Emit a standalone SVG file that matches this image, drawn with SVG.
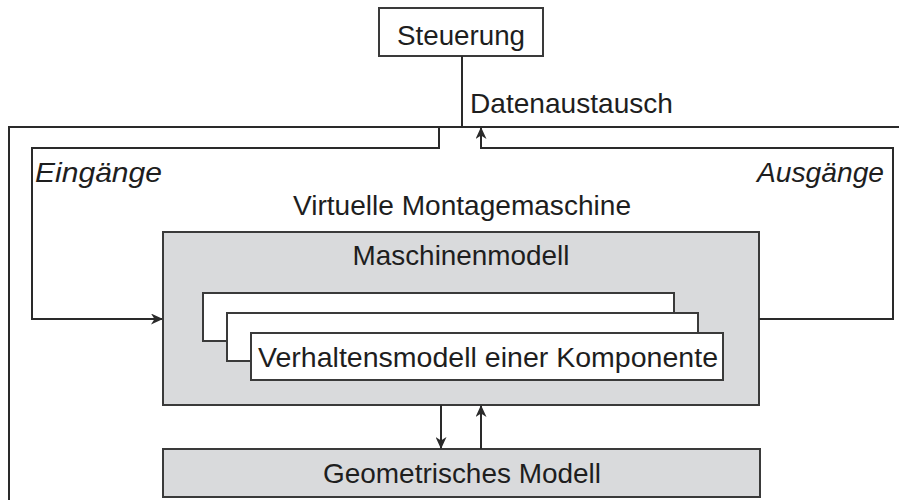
<svg xmlns="http://www.w3.org/2000/svg" width="899" height="500" viewBox="0 0 899 500">
  <style>
    .box { fill: #ffffff; stroke: #3a3a3a; stroke-width: 2; }
    .grey { fill: #d9dadc; stroke: #3a3a3a; stroke-width: 2; }
    .line { fill: none; stroke: #2a2a2a; stroke-width: 2; }
    .lbl { font-family: "Liberation Sans", Arial, sans-serif; font-size: 27.5px; fill: #1e1e1e; }
    .it { font-style: italic; }
  </style>
  <defs>
    <marker id="arrow" viewBox="0 0 12 11" refX="11" refY="5.5" markerWidth="12" markerHeight="11" markerUnits="userSpaceOnUse" orient="auto">
      <path d="M0,0 L12,5.5 L0,11 L3.5,5.5 z" fill="#2a2a2a"/>
    </marker>
  </defs>

  <!-- outer frame of the virtual machine (open to the right and bottom) -->
  <g id="frame">
    <path class="line" d="M9,500 V127 H899"/>
    <text class="lbl" x="462" y="215" text-anchor="middle" textLength="338" lengthAdjust="spacingAndGlyphs">Virtuelle Montagemaschine</text>
  </g>

  <g id="steuerung">
    <rect class="box" x="379" y="8" width="164" height="48"/>
    <text class="lbl" x="461" y="45" text-anchor="middle" textLength="128" lengthAdjust="spacingAndGlyphs">Steuerung</text>
  </g>

  <g id="maschinenmodell">
    <rect class="grey" x="163" y="232" width="596" height="173"/>
    <text class="lbl" x="461" y="265" text-anchor="middle" textLength="217" lengthAdjust="spacingAndGlyphs">Maschinenmodell</text>
  </g>

  <g id="komponente-1">
    <rect class="box" x="203" y="293" width="471" height="48"/>
  </g>
  <g id="komponente-2">
    <rect class="box" x="227" y="313" width="471" height="48"/>
  </g>
  <g id="komponente-3">
    <rect class="box" x="251" y="333" width="472" height="47"/>
    <text class="lbl" x="258" y="367" textLength="460" lengthAdjust="spacingAndGlyphs">Verhaltensmodell einer Komponente</text>
  </g>

  <g id="geometrie">
    <rect class="grey" x="163" y="449" width="597" height="48"/>
    <text class="lbl" x="462" y="483" text-anchor="middle" textLength="278" lengthAdjust="spacingAndGlyphs">Geometrisches Modell</text>
  </g>

  <g id="connectors">
    <!-- data exchange with the controller -->
    <path class="line" d="M462,56 V127"/>
    <text class="lbl" x="470" y="113" textLength="203" lengthAdjust="spacingAndGlyphs">Datenaustausch</text>
    <!-- inputs -->
    <path class="line" d="M439,127 V148 H32 V319 H162" marker-end="url(#arrow)"/>
    <text class="lbl it" x="35" y="182" textLength="127" lengthAdjust="spacingAndGlyphs">Eingänge</text>
    <!-- outputs -->
    <path class="line" d="M759,319 H893 V148 H481 V128" marker-end="url(#arrow)"/>
    <text class="lbl it" x="884" y="182" text-anchor="end" textLength="127" lengthAdjust="spacingAndGlyphs">Ausgänge</text>
    <!-- machine model to geometry and back -->
    <path class="line" d="M441,405 V448" marker-end="url(#arrow)"/>
    <path class="line" d="M481,449 V406" marker-end="url(#arrow)"/>
  </g>
</svg>
